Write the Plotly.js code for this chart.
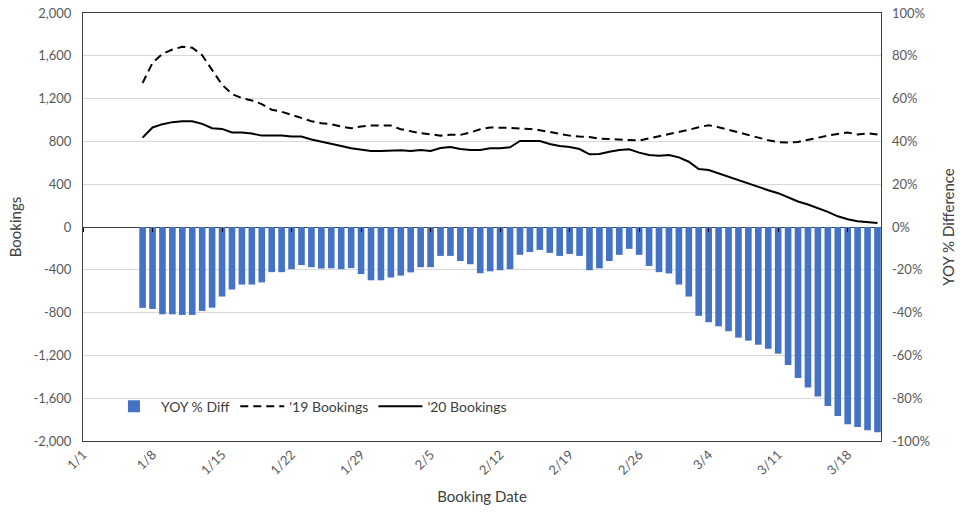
<!DOCTYPE html>
<html>
<head>
<meta charset="utf-8">
<script src="https://cdn.plot.ly/plotly-3.0.1.min.js"></script>
<style>html,body{margin:0;padding:0;background:#fff;}#chart{width:961px;height:515px;}</style>
</head>
<body>
<div id="chart"></div>
<script>
const dates = [
'2020-01-07','2020-01-08','2020-01-09','2020-01-10','2020-01-11','2020-01-12','2020-01-13','2020-01-14','2020-01-15','2020-01-16',
'2020-01-17','2020-01-18','2020-01-19','2020-01-20','2020-01-21','2020-01-22','2020-01-23','2020-01-24','2020-01-25','2020-01-26',
'2020-01-27','2020-01-28','2020-01-29','2020-01-30','2020-01-31','2020-02-01','2020-02-02','2020-02-03','2020-02-04','2020-02-05',
'2020-02-06','2020-02-07','2020-02-08','2020-02-09','2020-02-10','2020-02-11','2020-02-12','2020-02-13','2020-02-14','2020-02-15',
'2020-02-16','2020-02-17','2020-02-18','2020-02-19','2020-02-20','2020-02-21','2020-02-22','2020-02-23','2020-02-24','2020-02-25',
'2020-02-26','2020-02-27','2020-02-28','2020-02-29','2020-03-01','2020-03-02','2020-03-03','2020-03-04','2020-03-05','2020-03-06',
'2020-03-07','2020-03-08','2020-03-09','2020-03-10','2020-03-11','2020-03-12','2020-03-13','2020-03-14','2020-03-15','2020-03-16',
'2020-03-17','2020-03-18','2020-03-19','2020-03-20','2020-03-21'
];

const yoyDiff = [
-37.8,-38.3,-40.8,-40.8,-41.1,-41.1,-39.2,-37.7,-32.5,-29.2,
-26.9,-26.9,-25.9,-21.1,-21.1,-19.7,-17.8,-18.8,-19.4,-19.3,
-19.7,-19.2,-22.0,-24.9,-24.9,-23.6,-22.7,-21.2,-18.8,-18.8,
-13.5,-13.5,-15.9,-17.4,-21.6,-20.7,-20.2,-19.7,-13.0,-11.7,
-10.7,-12.1,-13.5,-12.6,-13.5,-20.2,-19.3,-15.9,-13.0,-10.2,
-13.0,-18.2,-21.1,-21.7,-26.9,-32.5,-41.5,-44.5,-46.4,-48.7,
-51.7,-53.1,-55.0,-56.9,-59.2,-64.5,-70.6,-75.0,-79.2,-83.6,
-88.3,-92.2,-93.5,-95.0,-95.9
];

const bookings19 = [
1346,1534,1618,1659,1684,1675,1606,1462,1330,1243,
1205,1183,1149,1096,1077,1049,1017,989,970,961,
939,923,939,948,948,948,914,892,876,867,
854,861,861,883,914,930,930,926,920,917,
905,886,870,854,845,842,826,823,820,811,
808,829,848,867,889,908,933,951,933,908,
886,861,836,811,792,789,795,817,839,854,
870,883,864,876,864
];

const bookings20 = [
835,930,961,980,989,989,964,923,917,883,
883,873,854,854,854,845,845,817,795,776,
757,736,726,711,711,717,717,711,720,711,
739,748,729,720,720,736,736,745,804,804,
804,776,757,748,729,679,682,704,720,726,
695,673,667,673,651,610,541,532,501,466,
432,404,376,344,316,279,238,210,178,141,
100,72,53,47,38
];

const xTickVals = ['2020-01-01','2020-01-08','2020-01-15','2020-01-22','2020-01-29','2020-02-05','2020-02-12','2020-02-19','2020-02-26','2020-03-04','2020-03-11','2020-03-18'];
const xTickText = ['1/1','1/8','1/15','1/22','1/29','2/5','2/12','2/19','2/26','3/4','3/11','3/18'];
const bookTickVals = [-2000,-1600,-1200,-800,-400,0,400,800,1200,1600,2000];
const bookTickText = ['-2,000','-1,600','-1,200','-800','-400','0','400','800','1,200','1,600','2,000'];
const pctTickVals = [-100,-80,-60,-40,-20,0,20,40,60,80,100];
const pctTickText = ['-100%','-80%','-60%','-40%','-20%','0%','20%','40%','60%','80%','100%'];

const FONT = 'Lato, "Open Sans", sans-serif';
const xRange = ['2020-01-01', '2020-03-21 08:30'];

const traces = [
  {type:'bar', name:'YOY % Diff', x:dates, y:yoyDiff, xaxis:'x', yaxis:'y2',
   marker:{color:'#4472C4'}, width:0.667*86400000},
  {type:'scatter', mode:'lines', name:"'19 Bookings", x:dates, y:bookings19, xaxis:'x', yaxis:'y',
   line:{color:'#000000', width:2, dash:'8px,5px'}},
  {type:'scatter', mode:'lines', name:"'20 Bookings", x:dates, y:bookings20, xaxis:'x2', yaxis:'y',
   line:{color:'#000000', width:2}}
];

const layout = {
  width:961, height:515,
  margin:{l:83, r:80, t:13, b:74},
  paper_bgcolor:'#ffffff', plot_bgcolor:'#ffffff',
  font:{family:FONT, size:13, color:'#595959'},
  showlegend:true,
  legend:{orientation:'h', x:0.03, y:0.08, xanchor:'left', yanchor:'middle',
          bgcolor:'rgba(0,0,0,0)', font:{family:FONT, size:14, color:'#404040'},
          traceorder:'normal', itemwidth:44},
  xaxis:{type:'date', range:xRange, tickvals:xTickVals, ticktext:xTickText, tickangle:-45,
         showgrid:false, zeroline:false, ticks:'', showline:true, mirror:true,
         linecolor:'#404040', linewidth:1, tickfont:{family:FONT, size:13, color:'#595959'},
         title:{text:'Booking Date', font:{family:FONT, size:15, color:'#404040'}, standoff:14}},
  xaxis2:{type:'date', range:xRange, tickvals:xTickVals, showticklabels:false, overlaying:'x',
          anchor:'free', position:0.5, ticks:'outside', ticklen:4, tickcolor:'#000000', tickwidth:1,
          showgrid:false, zeroline:false, showline:false},
  yaxis:{range:[-2000,2000], tickvals:bookTickVals, ticktext:bookTickText,
         showgrid:true, gridcolor:'#d9d9d9', gridwidth:1,
         zeroline:true, zerolinecolor:'#404040', zerolinewidth:1,
         showline:true, mirror:true, linecolor:'#404040', linewidth:1, ticks:'',
         ticklabelstandoff:8,
         tickfont:{family:FONT, size:13, color:'#595959'},
         title:{text:'Bookings', font:{family:FONT, size:15, color:'#404040'}, standoff:8}},
  yaxis2:{range:[-100,100], tickvals:pctTickVals, ticktext:pctTickText, overlaying:'y', side:'right',
          showgrid:false, zeroline:false, showline:false, ticks:'', ticklabelstandoff:10,
          tickfont:{family:FONT, size:13, color:'#595959'},
          title:{text:'YOY % Difference', font:{family:FONT, size:15, color:'#404040'}, standoff:14}},
  bargap:0.33
};

Plotly.newPlot('chart', traces, layout, {displayModeBar:false, staticPlot:true});
</script>
</body>
</html>
